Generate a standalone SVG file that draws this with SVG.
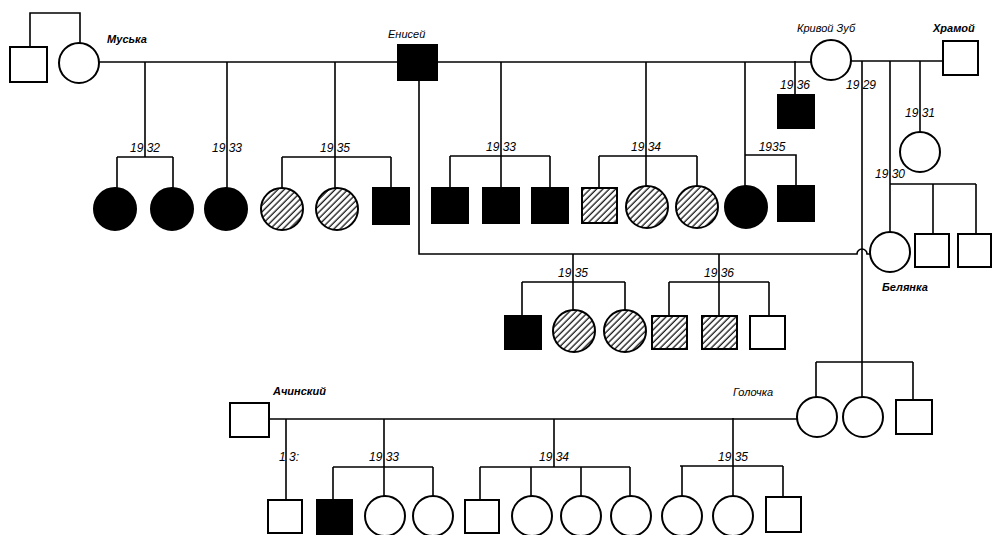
<svg xmlns="http://www.w3.org/2000/svg" width="992" height="535" viewBox="0 0 992 535">
<defs>
<pattern id="hatch" width="4.5" height="4.5" patternUnits="userSpaceOnUse" patternTransform="rotate(45)">
<rect width="4.5" height="4.5" fill="#fff"/>
<line x1="2" y1="0" x2="2" y2="4.5" stroke="#000" stroke-width="1.2"/>
</pattern>
</defs>
<style>
.ln{stroke:#000;stroke-width:1.6;fill:none}
.e{fill:#fff;stroke:#000;stroke-width:2}
.f{fill:#000;stroke:#000;stroke-width:2}
.h{fill:url(#hatch);stroke:#000;stroke-width:2}
.yr{font-family:"Liberation Sans",Arial,sans-serif;font-size:12px;font-style:italic;text-anchor:middle;fill:#000}
.nm{font-family:"Liberation Sans",Arial,sans-serif;font-size:11px;font-style:italic;fill:#000}
.b{font-weight:bold}
</style>
<rect width="992" height="535" fill="#fff"/>
<g id="connectors">
<path class="ln" d="M30,47 V13 H80 V43"/>
<path class="ln" d="M99,62 H811"/>
<path class="ln" d="M851,61 H943"/>
<path class="ln" d="M145,62 V157 M117,157 H173 M117,157 V188 M173,157 V188"/>
<path class="ln" d="M227,62 V188"/>
<path class="ln" d="M335,62 V188 M282,157 H391 M282,157 V188 M391,157 V188"/>
<path class="ln" d="M501,62 V188 M450,156 H550 M450,156 V188 M550,156 V188"/>
<path class="ln" d="M646,62 V186 M599,156 H697 M599,156 V188 M697,156 V186"/>
<path class="ln" d="M745,62 V186 M745,155 H796 V186"/>
<path class="ln" d="M795,61 V95"/>
<path class="ln" d="M862,61 V397 M816,362 H913 M816,362 V397 M913,362 V400"/>
<path class="ln" d="M890,61 V232 M890,184 H976 M933,184 V234 M976,184 V234"/>
<path class="ln" d="M920,61 V132"/>
<path class="ln" d="M419,80 V254 H857 A5,5 0 0 1 867,254 H870"/>
<path class="ln" d="M573,254 V311 M522,282 H625 M522,282 V316 M625,282 V311"/>
<path class="ln" d="M719,254 V316 M669,282 H769 M669,282 V316 M769,282 V316"/>
<path class="ln" d="M269,419 H797"/>
<path class="ln" d="M286,419 V500"/>
<path class="ln" d="M384,419 V497 M333,467 H433 M333,467 V500 M433,467 V497"/>
<path class="ln" d="M554,419 V467 M480,467 H630 M480,467 V500 M531,467 V497 M581,467 V497 M630,467 V497"/>
<path class="ln" d="M733,418 V497 M680,466 H783 M682,466 V497 M783,466 V497"/>
</g>
<g id="labels">
<text class="nm b" x="107" y="43">Муська</text>
<text class="nm" x="388" y="38">Енисей</text>
<text class="nm" x="797" y="32">Кривой Зуб</text>
<text class="nm b" x="933" y="32">Храмой</text>
<text class="nm b" x="882" y="291">Белянка</text>
<text class="nm b" x="273" y="395">Ачинский</text>
<text class="nm" x="733" y="396">Голочка</text>
<text class="yr" x="145" y="152">19 32</text>
<text class="yr" x="227" y="152">19 33</text>
<text class="yr" x="335" y="152">19 35</text>
<text class="yr" x="501" y="151">19 33</text>
<text class="yr" x="646" y="151">19 34</text>
<text class="yr" x="772" y="151">1935</text>
<text class="yr" x="795" y="89">19 36</text>
<text class="yr" x="861" y="89">19 29</text>
<text class="yr" x="920" y="117">19 31</text>
<text class="yr" x="890" y="178">19 30</text>
<text class="yr" x="573" y="277">19 35</text>
<text class="yr" x="719" y="277">19 36</text>
<text class="yr" x="289" y="461">1 3:</text>
<text class="yr" x="384" y="461">19 33</text>
<text class="yr" x="554" y="461">19 34</text>
<text class="yr" x="733" y="461">19 35</text>
</g>
<g id="n-sib-square"><rect class="e" x="10" y="47" width="37" height="35"/></g>
<g id="n-muska"><circle class="e" cx="79" cy="63" r="20"/></g>
<g id="n-enisei"><rect class="f" x="398" y="45" width="39" height="35"/></g>
<g id="n-krivoi-zub"><circle class="e" cx="831" cy="60" r="20"/></g>
<g id="n-khramoi"><rect class="e" x="943" y="41" width="35" height="34"/></g>
<g id="n-m1"><circle class="f" cx="115" cy="209" r="21"/></g>
<g id="n-m2"><circle class="f" cx="172" cy="209" r="21"/></g>
<g id="n-m3"><circle class="f" cx="226" cy="209" r="21"/></g>
<g id="n-m4"><circle class="h" cx="282" cy="209" r="21"/></g>
<g id="n-m5"><circle class="h" cx="337" cy="209" r="21"/></g>
<g id="n-m6"><rect class="f" x="373" y="188" width="36" height="36"/></g>
<g id="n-k1"><rect class="f" x="432" y="188" width="36" height="35"/></g>
<g id="n-k2"><rect class="f" x="483" y="188" width="36" height="35"/></g>
<g id="n-k3"><rect class="f" x="532" y="188" width="36" height="35"/></g>
<g id="n-k4"><rect class="h" x="582" y="188" width="35" height="35"/></g>
<g id="n-k5"><circle class="h" cx="647" cy="207" r="21"/></g>
<g id="n-k6"><circle class="h" cx="697" cy="207" r="21"/></g>
<g id="n-k7"><circle class="f" cx="746" cy="207" r="21"/></g>
<g id="n-k8"><rect class="f" x="778" y="186" width="36" height="35"/></g>
<g id="n-k1936"><rect class="f" x="778" y="95" width="36" height="33"/></g>
<g id="n-h1931"><circle class="e" cx="920" cy="152" r="20"/></g>
<g id="n-belyanka"><circle class="e" cx="890" cy="252" r="20"/></g>
<g id="n-h2"><rect class="e" x="915" y="234" width="34" height="33"/></g>
<g id="n-h3"><rect class="e" x="958" y="234" width="33" height="33"/></g>
<g id="n-b1"><rect class="f" x="505" y="316" width="36" height="33"/></g>
<g id="n-b2"><circle class="h" cx="574" cy="331" r="21"/></g>
<g id="n-b3"><circle class="h" cx="625" cy="331" r="21"/></g>
<g id="n-b4"><rect class="h" x="652" y="316" width="35" height="33"/></g>
<g id="n-b5"><rect class="h" x="702" y="316" width="35" height="33"/></g>
<g id="n-b6"><rect class="e" x="750" y="316" width="35" height="33"/></g>
<g id="n-golochka"><circle class="e" cx="817" cy="417" r="20"/></g>
<g id="n-g2"><circle class="e" cx="863" cy="417" r="20"/></g>
<g id="n-g3"><rect class="e" x="896" y="400" width="36" height="34"/></g>
<g id="n-achinsky"><rect class="e" x="230" y="403" width="39" height="34"/></g>
<g id="n-a1"><rect class="e" x="268" y="500" width="34" height="33"/></g>
<g id="n-a2"><rect class="f" x="317" y="500" width="35" height="34"/></g>
<g id="n-a3"><circle class="e" cx="385" cy="516" r="20"/></g>
<g id="n-a4"><circle class="e" cx="433" cy="516" r="20"/></g>
<g id="n-a5"><rect class="e" x="465" y="500" width="34" height="33"/></g>
<g id="n-a6"><circle class="e" cx="532" cy="516" r="20"/></g>
<g id="n-a7"><circle class="e" cx="581" cy="516" r="20"/></g>
<g id="n-a8"><circle class="e" cx="631" cy="516" r="20"/></g>
<g id="n-a9"><circle class="e" cx="682" cy="516" r="20"/></g>
<g id="n-a10"><circle class="e" cx="733" cy="516" r="20"/></g>
<g id="n-a11"><rect class="e" x="766" y="497" width="35" height="35"/></g>
</svg>
